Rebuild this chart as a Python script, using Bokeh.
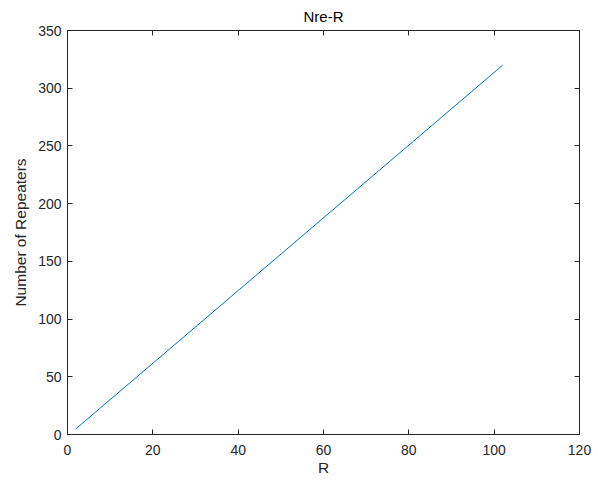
from bokeh.plotting import figure
from bokeh.models import Range1d, LinearAxis, FixedTicker, CustomJSTickFormatter
from bokeh.embed import file_html
from bokeh.resources import INLINE

# Data
R = [2, 102]
Nre = [5, 320]
x_ticks = [0, 20, 40, 60, 80, 100, 120]
y_ticks = [0, 50, 100, 150, 200, 250, 300, 350]

FONT = "Liberation Sans"
TXT = "#262626"

p = figure(width=598, height=481, output_backend="svg", toolbar_location=None,
           x_range=Range1d(0, 120), y_range=Range1d(0, 350),
           min_border_left=67, min_border_right=19, min_border_top=30, min_border_bottom=47,
           title="Nre-R")
p.title.align = "center"
p.title.text_font = FONT
p.title.text_font_size = "15px"
p.title.text_font_style = "normal"
p.title.text_color = "black"
p.title.offset = 0
p.title.standoff = 11

p.grid.visible = False
p.outline_line_color = "#262626"
p.outline_line_width = 1
p.background_fill_color = "white"
p.border_fill_color = "white"

p.line(R, Nre, line_color="#0072BD", line_width=1)

def style(ax, ticks, label=None, show_labels=True):
    ax.ticker = FixedTicker(ticks=ticks)
    ax.major_tick_in = 5
    ax.major_tick_out = 0
    ax.minor_tick_line_color = None
    ax.axis_line_color = "#262626"
    ax.major_tick_line_color = "#262626"
    ax.major_label_text_font = FONT
    ax.major_label_text_color = TXT
    ax.major_label_text_font_size = "14px"
    if not show_labels:
        ax.formatter = CustomJSTickFormatter(code="return '';")
        ax.major_label_standoff = 0
    if label:
        ax.axis_label = label
        ax.axis_label_text_font = FONT
        ax.axis_label_text_font_size = "15.5px"
        ax.axis_label_text_font_style = "normal"
        ax.axis_label_text_color = TXT

style(p.xaxis[0], x_ticks, "R")
p.xaxis[0].major_label_standoff = 10
p.xaxis[0].axis_label_standoff = 1
style(p.yaxis[0], y_ticks, "Number of Repeaters")
p.yaxis[0].major_label_standoff = 6
p.yaxis[0].axis_label_standoff = 6

top = LinearAxis()
style(top, x_ticks, show_labels=False)
p.add_layout(top, "above")
right = LinearAxis()
style(right, y_ticks, show_labels=False)
p.add_layout(right, "right")

open("out.html", "w").write(file_html(p, INLINE))
